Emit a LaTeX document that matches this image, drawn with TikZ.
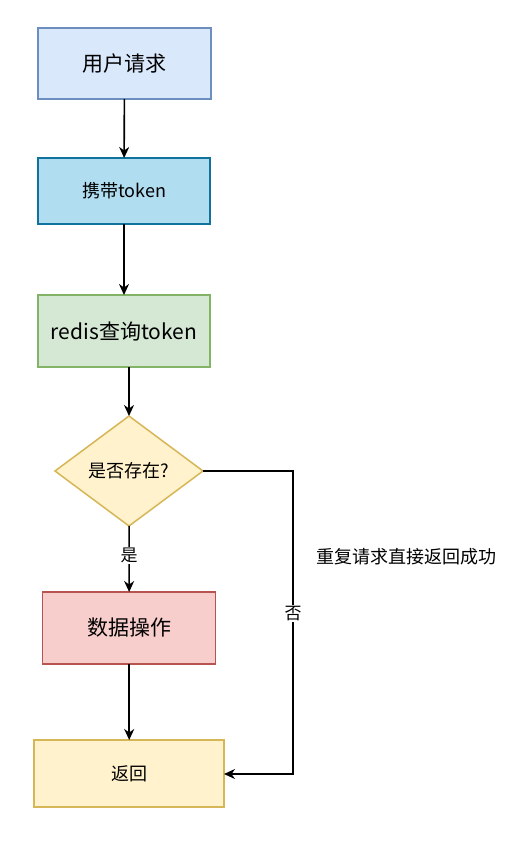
\documentclass[tikz,border=0pt]{standalone}
\usepackage{fontspec}
\setmainfont{Noto Sans CJK SC}
\usetikzlibrary{shapes.geometric,arrows.meta}
\definecolor{b1f}{HTML}{DAE8FC}\definecolor{b1d}{HTML}{6C8EBF}
\definecolor{b2f}{HTML}{B1DDF0}\definecolor{b2d}{HTML}{10739E}
\definecolor{b3f}{HTML}{D5E8D4}\definecolor{b3d}{HTML}{82B366}
\definecolor{yf}{HTML}{FFF2CC}\definecolor{yd}{HTML}{D6B656}
\definecolor{rf}{HTML}{F8CECC}\definecolor{rd}{HTML}{B85450}
\tikzset{
  box/.style={draw, line width=1.5pt, inner sep=0pt, outer sep=0pt},
  conn/.style={line width=1.6pt, -{Stealth[length=11pt,width=10pt,inset=3.5pt]}},
  lbl/.style={fill=white, inner sep=1pt, font=\fontsize{17}{20}\selectfont},
}
\begin{document}
\begin{tikzpicture}[x=1pt,y=-1pt]
\useasboundingbox (0,0) rectangle (522,856);
\fill[white] (0,0) rectangle (522,856);
\node[box, fill=b1f, draw=b1d, minimum width=173pt, minimum height=71pt, font=\fontsize{21}{24}\selectfont] (a) at (124.5,63.5) {用户请求};
\node[box, fill=b2f, draw=b2d, minimum width=172pt, minimum height=66pt, font=\fontsize{18}{21}\selectfont] (b) at (124,191) {携带token};
\node[box, fill=b3f, draw=b3d, minimum width=172pt, minimum height=72pt, font=\fontsize{21}{24}\selectfont] (c) at (124,331) {redis查询token};
\node[box, diamond, aspect=1.345, fill=yf, draw=yd, minimum width=148pt, minimum height=110pt, font=\fontsize{18}{21}\selectfont] (d) at (129,471) {是否存在?};
\node[box, fill=rf, draw=rd, minimum width=173pt, minimum height=72pt, font=\fontsize{21}{24}\selectfont] (e) at (129.2,628) {数据操作};
\node[box, fill=yf, draw=yd, minimum width=190pt, minimum height=67pt, font=\fontsize{18}{21}\selectfont] (f) at (129,773.5) {返回};
\node[font=\fontsize{18}{21}\selectfont, inner sep=0pt] (t) at (406,557) {重复请求直接返回成功};
\coordinate (k1) at (293,471);
\coordinate (k2) at (293,774);
\draw[conn] (a) -- (b);
\draw[conn] (b) -- (c);
\draw[conn] (d.north |- c.south) -- (d.north);
\draw[conn] (d) -- node[lbl, pos=0.45] {是} (e);
\draw[conn] (e.south) -- (e.south |- f.north);
\draw[conn] (d.east) -- (k1) -- node[lbl, pos=0.47] {否} (k2) -- (f.east |- k2);
\end{tikzpicture}
\end{document}
